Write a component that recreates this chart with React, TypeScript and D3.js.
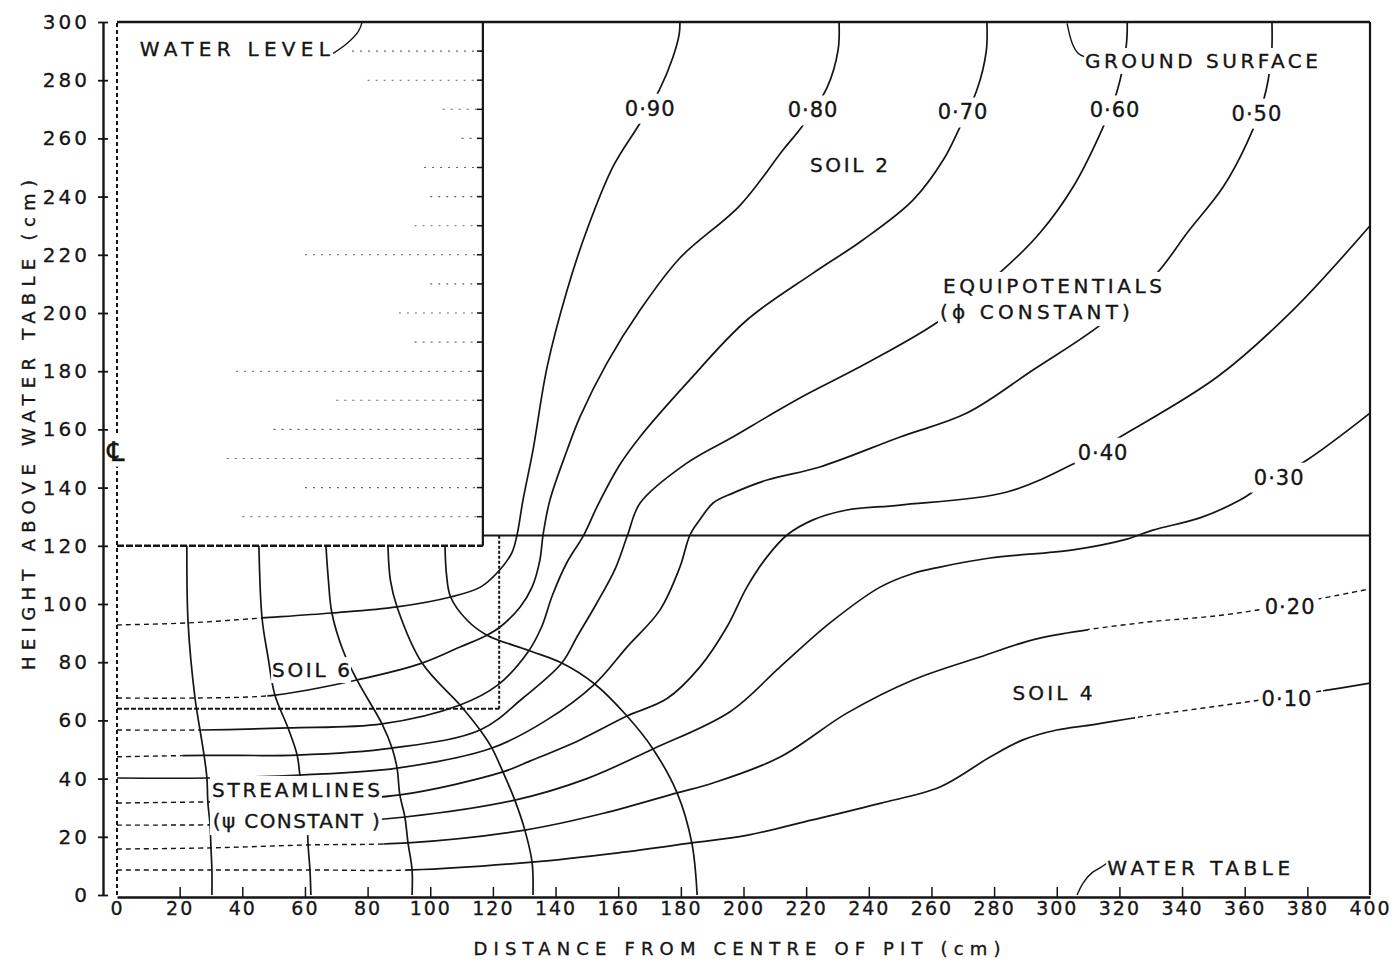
import React, { useEffect, useRef } from "react";
import * as d3 from "d3";

type Pt = [number, number];

// axis ticks (cm)
const xTickValues = [0, 20, 40, 60, 80, 100, 120, 140, 160, 180, 200, 220, 240, 260, 280, 300, 320, 340, 360, 380, 400];
const yTickValues = [0, 20, 40, 60, 80, 100, 120, 140, 160, 180, 200, 220, 240, 260, 280, 300];

// equipotential lines, (distance cm, height cm)
const phi90: Pt[] = [[0, 92.8], [22.7, 93.5], [46.3, 95.2], [68.6, 96.9], [89.4, 99], [106.5, 102.4], [116, 105.8], [121.6, 111], [126, 117.5], [127.7, 123.7], [129.6, 135.7], [132.8, 152.9], [137.3, 181.4], [143.7, 207.9], [150, 228.5], [158.3, 250.2], [167, 265.3], [173.3, 277], [177.5, 288], [179.5, 296], [179.7, 300]];
const phi80: Pt[] = [[0, 67.7], [24.9, 67.7], [50.4, 68.7], [76.6, 73.9], [97.4, 79.7], [109.5, 85.2], [118.1, 89.3], [122.3, 92.1], [128.7, 99], [132.5, 105.8], [135, 115.1], [136, 123.7], [138.2, 135.7], [143.7, 152.9], [147.8, 164.3], [156.4, 182.8], [167, 201], [179.7, 218.9], [198.9, 237], [212.6, 256], [219, 264.5], [226.7, 277.5], [230.2, 290.4], [230.5, 300]];
const phi70: Pt[] = [[0, 56.7], [26.5, 56.7], [54.6, 57.4], [84.6, 58.8], [109.5, 65.3], [121.6, 72.2], [131.2, 83.5], [135.5, 92], [139, 103], [143.5, 114], [149, 123.7], [153.5, 134], [160.6, 148], [167, 157.5], [181.9, 175.9], [201.1, 197.6], [222.2, 213.7], [238.1, 225.1], [254.1, 238.8], [264, 253], [269.1, 263.9], [274.5, 276.6], [277.5, 290], [277.7, 300]];
const phi60: Pt[] = [[0, 47.5], [28.1, 48], [57.5, 48.1], [87.8, 50.5], [115.9, 56.7], [129.6, 67.7], [142, 79.7], [147, 89], [153, 100], [159, 112], [163, 123.7], [167, 134.7], [182, 148.5], [196.6, 157.4], [207.5, 164.3], [218, 170.8], [239.4, 182.8], [262, 196.9], [282.8, 214.8], [294.6, 227.5], [305.2, 243.3], [314.8, 263.9], [319.2, 276], [322.2, 292], [322.5, 300]];
const phi50: Pt[] = [[0, 40.2], [28.7, 40.2], [58.4, 41.2], [89.4, 43.6], [119.7, 50.5], [137, 60], [152.5, 72.5], [162.8, 85.2], [173.3, 97.9], [179.7, 112.7], [182.9, 123.7], [186.1, 129], [190.3, 134.7], [196.6, 138.1], [207.5, 142.6], [224.4, 147.1], [250, 157.4], [271.3, 165.6], [292.4, 180.4], [314.8, 196.6], [332, 213.7], [341.6, 227.5], [353.1, 243.3], [360.7, 258.4], [366, 273], [368.5, 288], [368.7, 300]];
const phi40: Pt[] = [[0, 31.6], [29, 32], [60, 32.5], [90.3, 34.4], [123.2, 42.3], [131.8, 46], [147.8, 53.3], [162.8, 61.5], [175.6, 67.5], [186.1, 78.4], [194.7, 92.1], [201.1, 105.8], [207.5, 116.2], [213.9, 123.7], [222.2, 128.9], [233, 132.3], [250, 134], [284.1, 138.5], [306.5, 148.8], [320.2, 157.4], [351.2, 178], [375.4, 201], [400, 230]];
const phi30: Pt[] = [[0, 24], [29.7, 24.1], [60.7, 24.5], [91.9, 26.8], [127, 32.6], [150, 40], [171.1, 50.2], [195.7, 63], [211.7, 78.4], [227.6, 93.5], [243.6, 105.8], [254.1, 110.5], [262.7, 112.7], [278.7, 115.8], [305.2, 118.6], [322.4, 122.3], [330.7, 125.4], [345.7, 129.6], [358.5, 135.7], [364.9, 140.2], [379.9, 149.5], [400, 165.6]];
const phi20: Pt[] = [[0, 15.8], [30, 16.2], [61, 17.2], [92.9, 17.9], [130.2, 22.3], [155, 28], [178.8, 35.1], [190.3, 38.5], [211.7, 47.4], [233, 62.5], [254.1, 73.9], [275.5, 81.8], [294.6, 88.3], [326.6, 93.5], [353.1, 96.2], [375, 100], [400, 105.2]];
const phi10: Pt[] = [[0, 8.6], [30.3, 8.6], [61.6, 8.6], [94.2, 8.6], [132.5, 11.3], [160, 14.5], [183.5, 17.9], [201, 20.5], [222, 25.8], [243.6, 31.5], [262.7, 37.1], [278.7, 47.4], [289.2, 53.3], [300, 56.7], [310.6, 58.4], [326.6, 61.2], [358.5, 66], [386.3, 70.4], [400, 72.8]];

const phiLabels = ["0·90", "0·80", "0·70", "0·60", "0·50", "0·40", "0·30", "0·20", "0·10"];
const phiLabelSpots: Pt[] = [[170.2, 270.4], [222.2, 269.8], [270.1, 269.1], [318.6, 269.8], [363.9, 268.7], [314.8, 152.2], [371, 143.6], [374.5, 99], [373.5, 67.7]];
// stretches (cm along x) that were drawn broken in the original
const phiDashed: Pt[][] = [[[0, 46]], [[0, 48]], [[0, 27]], [[0, 21]], [], [[0, 29]], [[0, 29]], [[0, 85], [310, 400]], [[0, 92], [325, 385]]];

// streamlines
const psi1: Pt[] = [[22.3, 120], [22.7, 93.5], [24.9, 67.7], [26.5, 56.7], [27.8, 48], [28.7, 40.2], [29, 32], [29.7, 24.1], [30, 16.2], [30.3, 8.6], [30.3, 0]];
const psi2: Pt[] = [[45.3, 120], [46.3, 95.2], [48.2, 81.8], [50.4, 68.7], [54.6, 57.4], [57.5, 48.1], [58.4, 41.2], [59.8, 32.3], [60.7, 24.5], [61, 17.2], [61.6, 8.6], [61.9, 0]];
const psi3: Pt[] = [[66.7, 120], [67.5, 108], [68.6, 96.9], [72.1, 84.2], [76.6, 73.9], [84.6, 58.8], [87.8, 50.5], [89.4, 43.6], [90.3, 34.4], [91.9, 26.8], [92.9, 17.9], [94.2, 8.6], [94.2, 0]];
const psi4: Pt[] = [[86.5, 120], [87.3, 108], [89.4, 99], [97.4, 79.7], [109.5, 65.3], [115.9, 56.7], [119.7, 50.5], [123.2, 42.3], [127, 32.6], [130.2, 22.3], [132.5, 11.3], [132.8, 0]];
const psi5: Pt[] = [[104.7, 120], [105.2, 110], [106.5, 102.4], [111.7, 94.5], [118.1, 89.3], [131.5, 84], [142, 79.7], [152.5, 72.5], [162.8, 61.5], [171.1, 50.2], [178.8, 35.1], [183.5, 17.9], [185.2, 0]];

// pit and soil layers
const pitWallX = 116.8;
const pitFloorY = 120;
const soil6Right = 122;
const soil6Bottom = 64;
const interfaceY = 123.5;
const pitHatchY = [130, 140, 150, 160, 170, 180, 190, 200, 210, 220, 230, 240, 250, 260, 270, 280, 290];
const pitHatchStart = [40, 60, 35, 50, 70, 38, 95, 90, 100, 60, 95, 100, 98, 110, 104, 80, 75];

// annotations
const notes: { text: string; at: Pt; len: number }[] = [
  { text: "WATER LEVEL", at: [7.3, 288.3], len: 190 },
  { text: "GROUND SURFACE", at: [309, 284.2], len: 233 },
  { text: "SOIL 2", at: [221.2, 248.5], len: 78 },
  { text: "SOIL 6", at: [49.5, 74.9], len: 78 },
  { text: "SOIL 4", at: [285.9, 67.0], len: 80 },
  { text: "WATER TABLE", at: [316.1, 6.9], len: 183 },
];
const waterLevelLeader: Pt[] = [[69, 289.2], [73.4, 292.6], [77, 296.7], [78.2, 299.7]];
const groundLeader: Pt[] = [[303.3, 299.5], [304.9, 292.8], [306.8, 289.3], [309, 288]];
const waterTableLeader: Pt[] = [[306.5, 0], [308.4, 4.1], [311.2, 7.6], [313.8, 9.3], [316.1, 11]];

const FONT = "'DejaVu Sans', sans-serif";
const INK = "#151515";

export default function App() {
  const ref = useRef<SVGSVGElement>(null);

  useEffect(() => {
    const svg = d3.select(ref.current);
    svg.selectAll("*").remove();

    const x = d3.scaleLinear().domain([0, 400]).range([117, 1370]);
    const y = d3.scaleLinear().domain([0, 300]).range([895, 22]);
    const line = d3
      .line<Pt>()
      .x((d) => x(d[0]))
      .y((d) => y(d[1]))
      .curve(d3.curveCatmullRom.alpha(0.5));
    const defs = svg.append("defs");

    const seg = (g: any, x1: number, y1: number, x2: number, y2: number, w: number, dash?: string) =>
      g
        .append("line")
        .attr("x1", x(x1))
        .attr("y1", y(y1))
        .attr("x2", x(x2))
        .attr("y2", y(y2))
        .attr("stroke", INK)
        .attr("stroke-width", w)
        .attr("stroke-dasharray", dash || null);

    // water in pit
    const pit = svg.append("g");
    pit
      .selectAll("line.hatch")
      .data(pitHatchY)
      .join("line")
      .attr("x1", (d, i) => x(pitHatchStart[i]))
      .attr("x2", x(pitWallX))
      .attr("y1", (d) => y(d))
      .attr("y2", (d) => y(d))
      .attr("stroke", "#666")
      .attr("stroke-width", 1.1)
      .attr("stroke-dasharray", "2,6");
    pit
      .selectAll("line.tick")
      .data(pitHatchY)
      .join("line")
      .attr("x1", x(pitWallX) - 6)
      .attr("x2", x(pitWallX))
      .attr("y1", (d) => y(d))
      .attr("y2", (d) => y(d))
      .attr("stroke", INK)
      .attr("stroke-width", 1.5);

    // outlines
    const frame = svg.append("g");
    seg(frame, pitWallX, pitFloorY, pitWallX, 300, 2.2);
    seg(frame, 0, pitFloorY, pitWallX, pitFloorY, 2.6, "7,2");
    seg(frame, soil6Right, soil6Bottom, soil6Right, interfaceY, 2, "3,2");
    seg(frame, 0, soil6Bottom, soil6Right, soil6Bottom, 2.2, "5,2");
    seg(frame, pitWallX, interfaceY, 400, interfaceY, 2);
    seg(frame, 0, 0, 0, 300, 2, "4,3");
    seg(frame, 0, 300, 400, 300, 2.6);
    seg(frame, 400, 0, 400, 300, 2.2);

    // equipotentials with broken stretches
    const phis = [phi90, phi80, phi70, phi60, phi50, phi40, phi30, phi20, phi10];
    const curves = svg.append("g").attr("fill", "none").attr("stroke", INK).attr("stroke-width", 1.7);
    phis.forEach((pts, i) => {
      const ranges = phiDashed[i];
      const dashClip = defs.append("clipPath").attr("id", `dash-${i}`);
      const solidClip = defs.append("clipPath").attr("id", `solid-${i}`);
      let from = -20;
      ranges.forEach((r) => {
        const a = r[0] <= 0 ? -20 : r[0];
        const b = r[1] >= 400 ? 420 : r[1];
        dashClip.append("rect").attr("x", x(a)).attr("width", x(b) - x(a)).attr("y", 0).attr("height", 963);
        if (a > from) solidClip.append("rect").attr("x", x(from)).attr("width", x(a) - x(from)).attr("y", 0).attr("height", 963);
        from = b;
      });
      if (from < 420) solidClip.append("rect").attr("x", x(from)).attr("width", x(420) - x(from)).attr("y", 0).attr("height", 963);
      curves.append("path").attr("d", line(pts)).attr("clip-path", `url(#solid-${i})`);
      if (ranges.length)
        curves
          .append("path")
          .attr("d", line(pts))
          .attr("clip-path", `url(#dash-${i})`)
          .attr("stroke-width", 1.4)
          .attr("stroke-dasharray", "5,4");
    });

    // streamlines
    [psi1, psi2, psi3, psi4, psi5].forEach((pts) => curves.append("path").attr("d", line(pts)));

    // leaders
    [waterLevelLeader, groundLeader, waterTableLeader].forEach((pts) =>
      curves.append("path").attr("d", line(pts)).attr("stroke-width", 1.4)
    );

    // text with white knock-out behind it
    const labels = svg
      .append("g")
      .attr("font-family", FONT)
      .attr("fill", INK)
      .attr("stroke", INK)
      .attr("stroke-width", 0.35);
    const knock = (nodes: SVGTextElement[], pad: number) => {
      const boxes = nodes.map((n) => n.getBBox());
      const x0 = d3.min(boxes, (b) => b.x)! - pad;
      const y0 = d3.min(boxes, (b) => b.y)! - pad;
      const x1 = d3.max(boxes, (b) => b.x + b.width)! + pad;
      const y1 = d3.max(boxes, (b) => b.y + b.height)! + pad;
      labels
        .insert("rect", () => nodes[0])
        .attr("x", x0)
        .attr("y", y0)
        .attr("width", x1 - x0)
        .attr("height", y1 - y0)
        .attr("fill", "#fff")
        .attr("stroke", "none");
    };
    const word = (text: string, at: Pt, len: number, size = 20, anchor = "start") =>
      labels
        .append("text")
        .attr("x", x(at[0]))
        .attr("y", y(at[1]))
        .attr("font-size", size)
        .attr("text-anchor", anchor)
        .attr("textLength", len)
        .attr("lengthAdjust", "spacing")
        .text(text)
        .node() as SVGTextElement;

    notes.forEach((n) => knock([word(n.text, n.at, n.len)], 1));
    knock([word("EQUIPOTENTIALS", [263.7, 206.9], 219), word("(ϕ CONSTANT)", [262.7, 197.9], 190)], 2);
    knock([word("STREAMLINES", [30.3, 33.7], 168), word("(ψ CONSTANT )", [30.6, 23.0], 167)], 2);

    phiLabels.forEach((t, i) => {
      const node = labels
        .append("text")
        .attr("x", x(phiLabelSpots[i][0]))
        .attr("y", y(phiLabelSpots[i][1]))
        .attr("dy", "0.36em")
        .attr("font-size", 21)
        .attr("text-anchor", "middle")
        .attr("letter-spacing", 1)
        .text(t)
        .node() as SVGTextElement;
      knock([node], 3);
    });

    const cl = labels
      .append("text")
      .attr("x", x(0) - 1)
      .attr("y", y(152.6))
      .attr("dy", "0.36em")
      .attr("font-size", 27)
      .attr("text-anchor", "middle")
      .text("℄")
      .node() as SVGTextElement;
    knock([cl], 0);

    // axes
    const xAxis = svg
      .append("g")
      .attr("transform", `translate(0,${y(0) + 2})`)
      .call(d3.axisBottom(x).tickValues(xTickValues).tickFormat(d3.format("d")).tickSize(-10).tickSizeOuter(0).tickPadding(5));
    xAxis.select(".domain").attr("stroke", INK).attr("stroke-width", 2.6);
    xAxis.selectAll(".tick line").attr("stroke", INK).attr("stroke-width", 1.5);
    xAxis.selectAll(".tick").filter((d: any) => d === 0 || d === 400).select("line").remove();
    xAxis
      .selectAll(".tick text")
      .attr("font-family", FONT)
      .attr("font-size", 19)
      .attr("letter-spacing", 2)
      .attr("fill", INK)
      .attr("stroke", INK)
      .attr("stroke-width", 0.3);

    const yAxis = svg
      .append("g")
      .attr("transform", "translate(103,0)")
      .call(d3.axisLeft(y).tickValues(yTickValues).tickFormat(d3.format("d")).tickSize(5).tickSizeOuter(0).tickPadding(8));
    yAxis.select(".domain").attr("stroke", INK).attr("stroke-width", 2.4);
    yAxis.selectAll(".tick line").attr("x1", 5).attr("x2", -5).attr("stroke", INK).attr("stroke-width", 1.8);
    yAxis
      .selectAll(".tick text")
      .attr("font-family", FONT)
      .attr("font-size", 20)
      .attr("letter-spacing", 3)
      .attr("fill", INK)
      .attr("stroke", INK)
      .attr("stroke-width", 0.3);

    labels
      .append("text")
      .attr("x", 737)
      .attr("y", 955)
      .attr("font-size", 18)
      .attr("text-anchor", "middle")
      .attr("textLength", 527)
      .attr("lengthAdjust", "spacing")
      .text("DISTANCE FROM CENTRE OF PIT (cm)");
    labels
      .append("text")
      .attr("transform", "translate(35,425) rotate(-90)")
      .attr("font-size", 18)
      .attr("text-anchor", "middle")
      .attr("textLength", 490)
      .attr("lengthAdjust", "spacing")
      .text("HEIGHT ABOVE WATER TABLE (cm)");
  }, []);

  return (
    <svg
      ref={ref}
      width={1399}
      height={963}
      style={{ position: "absolute", left: 0, top: 0, background: "#fff" }}
    ></svg>
  );
}
